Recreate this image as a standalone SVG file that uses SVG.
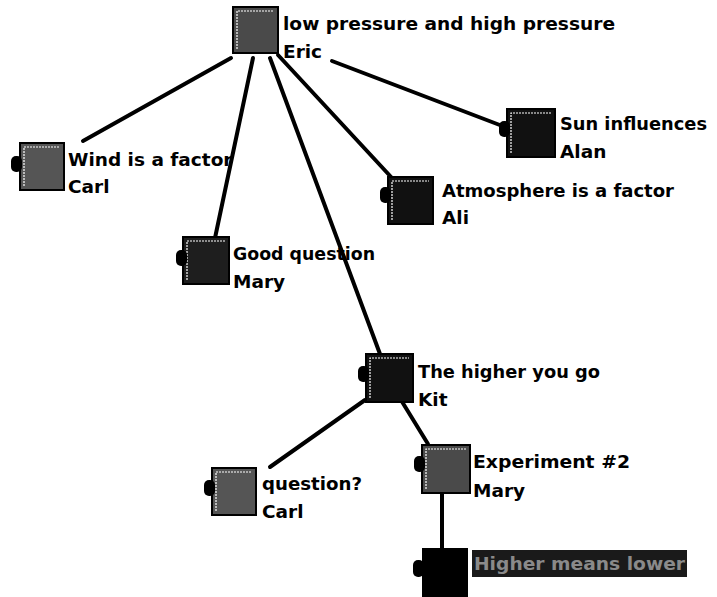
<svg xmlns="http://www.w3.org/2000/svg" width="717" height="597" viewBox="0 0 717 597">
<style>
.bx{stroke:#000;stroke-width:2}
.hl{fill:none;stroke:#fff;stroke-width:1.2;stroke-dasharray:2 1}
.dot{fill:#000}
.t{font-family:"DejaVu Sans","Liberation Sans",Arial,sans-serif;font-weight:bold;font-size:18.5px;fill:#000}
.ln{fill:none;stroke:#000;stroke-width:4;stroke-linecap:round}
</style>
<rect width="717" height="597" fill="#fff"/>
<g id="connectors">
<line class="ln" x1="231" y1="58" x2="83" y2="141"/>
<line class="ln" x1="253" y1="58" x2="215" y2="238"/>
<line class="ln" x1="270" y1="58" x2="380" y2="354"/>
<line class="ln" x1="278" y1="55" x2="392" y2="178"/>
<line class="ln" x1="332" y1="61" x2="505" y2="127"/>
<line class="ln" x1="365" y1="400" x2="270" y2="467"/>
<line class="ln" x1="401" y1="400" x2="428" y2="444"/>
<line class="ln" x1="442" y1="493" x2="442" y2="549"/>
</g>
<g id="n-top">
<rect class="bx" x="233" y="7" width="45" height="46" fill="#4a4a4a"/>
<polyline class="hl" points="237,49 237,11 274,11"/>
<text class="t" x="283" y="30" textLength="332" lengthAdjust="spacingAndGlyphs">low pressure and high pressure</text>
<text class="t" x="283" y="58">Eric</text>
</g>
<g id="n-wind">
<rect class="bx" x="20" y="143" width="44" height="47" fill="#555"/>
<polyline class="hl" points="24,186 24,147 60,147"/>
<rect class="dot" x="11" y="156" width="11" height="16" rx="5"/>
<text class="t" x="68" y="166">Wind is a factor</text>
<text class="t" x="68" y="193">Carl</text>
</g>
<g id="n-good">
<rect class="bx" x="183" y="237" width="46" height="47" fill="#1e1e1e"/>
<polyline class="hl" points="187,280 187,241 225,241"/>
<rect class="dot" x="176" y="250" width="11" height="16" rx="5"/>
<text class="t" x="233" y="260" textLength="142" lengthAdjust="spacingAndGlyphs">Good question</text>
<text class="t" x="233" y="288">Mary</text>
</g>
<g id="n-atm">
<rect class="bx" x="388" y="177" width="45" height="47" fill="#111"/>
<polyline class="hl" points="392,220 392,181 429,181"/>
<rect class="dot" x="380" y="187" width="11" height="16" rx="5"/>
<text class="t" x="442" y="197" textLength="232" lengthAdjust="spacingAndGlyphs">Atmosphere is a factor</text>
<text class="t" x="442" y="224">Ali</text>
</g>
<g id="n-sun">
<rect class="bx" x="507" y="109" width="48" height="48" fill="#111"/>
<polyline class="hl" points="511,153 511,113 551,113"/>
<rect class="dot" x="499" y="121" width="11" height="16" rx="5"/>
<text class="t" x="560" y="130" textLength="147" lengthAdjust="spacingAndGlyphs">Sun influences</text>
<text class="t" x="560" y="158">Alan</text>
</g>
<g id="n-kit">
<rect class="bx" x="366" y="354" width="47" height="48" fill="#111"/>
<polyline class="hl" points="370,398 370,358 409,358"/>
<rect class="dot" x="358" y="366" width="11" height="16" rx="5"/>
<text class="t" x="418" y="378" textLength="182" lengthAdjust="spacingAndGlyphs">The higher you go</text>
<text class="t" x="418" y="406">Kit</text>
</g>
<g id="n-q">
<rect class="bx" x="212" y="468" width="44" height="47" fill="#555"/>
<polyline class="hl" points="216,511 216,472 252,472"/>
<rect class="dot" x="204" y="480" width="11" height="16" rx="5"/>
<text class="t" x="262" y="490" textLength="100" lengthAdjust="spacingAndGlyphs">question?</text>
<text class="t" x="262" y="518">Carl</text>
</g>
<g id="n-exp">
<rect class="bx" x="422" y="445" width="48" height="48" fill="#4a4a4a"/>
<polyline class="hl" points="426,489 426,449 466,449"/>
<rect class="dot" x="414" y="456" width="11" height="16" rx="5"/>
<text class="t" x="473" y="468" textLength="157" lengthAdjust="spacingAndGlyphs">Experiment #2</text>
<text class="t" x="473" y="497">Mary</text>
</g>
<g id="n-bottom">
<rect x="422" y="548" width="46" height="52" fill="#000"/>
<rect class="dot" x="413" y="560" width="11" height="17" rx="5"/>
<rect x="472" y="550" width="215" height="27" fill="#1a1a1a"/>
<text class="t" x="474" y="570" textLength="211" lengthAdjust="spacingAndGlyphs" style="fill:#8a8a8a">Higher means lower</text>
</g>
</svg>
